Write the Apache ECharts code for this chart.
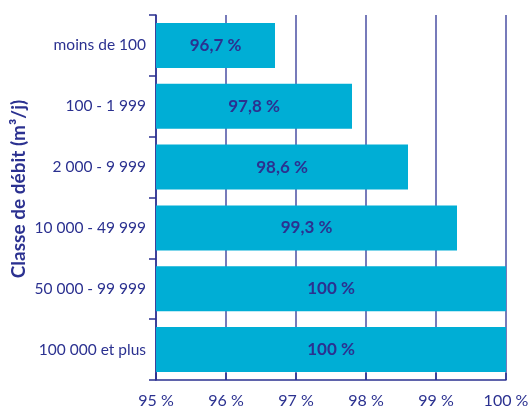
<!DOCTYPE html>
<html><head><meta charset="utf-8">
<script src="https://cdn.jsdelivr.net/npm/echarts@6/dist/echarts.min.js"></script>
<style>html,body{margin:0;padding:0;background:#fff}#c{width:530px;height:409px}</style>
</head><body><div id="c"></div>
<script>
const categories = ['moins de 100', '100 - 1 999', '2 000 - 9 999', '10 000 - 49 999', '50 000 - 99 999', '100 000 et plus'];
const values = [96.7, 97.8, 98.6, 99.3, 100, 100];
const axisTitle = 'Classe de débit (m³/j)';
const NAVY = '#2b3190';
const BAR = '#00aed5';
const FONT = 'Lato';
const chart = echarts.init(document.getElementById('c'));
chart.setOption({
  animation: false,
  grid: {left: 156, right: 24, top: 15, bottom: 29, containLabel: false, outerBoundsMode: 'none'},
  graphic: [{
    type: 'text', x: 19, y: 189, rotation: Math.PI / 2,
    style: {text: axisTitle, fill: NAVY, font: 'bold 19px Lato', align: 'center', verticalAlign: 'middle'}
  }],
  xAxis: {
    type: 'value', min: 95, max: 100, interval: 1,
    axisLine: {show: true, lineStyle: {color: NAVY, width: 1.5}},
    axisTick: {show: true, inside: true, length: 7, lineStyle: {color: NAVY, width: 1.5}},
    splitLine: {show: true, lineStyle: {color: '#4a4fa3', width: 1.5}},
    axisLabel: {color: NAVY, fontFamily: FONT, fontSize: 16, margin: 13,
      formatter: v => v + ' %'}
  },
  yAxis: {
    type: 'category', data: categories, inverse: true,
    axisLine: {show: true, lineStyle: {color: NAVY, width: 1.5}},
    axisTick: {show: true, length: 7, lineStyle: {color: NAVY, width: 1.5}},
    axisLabel: {color: NAVY, fontFamily: FONT, fontSize: 15.5, margin: 10}
  },
  series: [{
    type: 'bar', data: values, barWidth: 45,
    itemStyle: {color: BAR},
    label: {show: true, position: 'inside', color: NAVY, fontFamily: FONT,
      fontSize: 17, fontWeight: 'bold',
      formatter: p => String(p.value).replace('.', ',') + ' %'}
  }]
});
</script></body></html>
